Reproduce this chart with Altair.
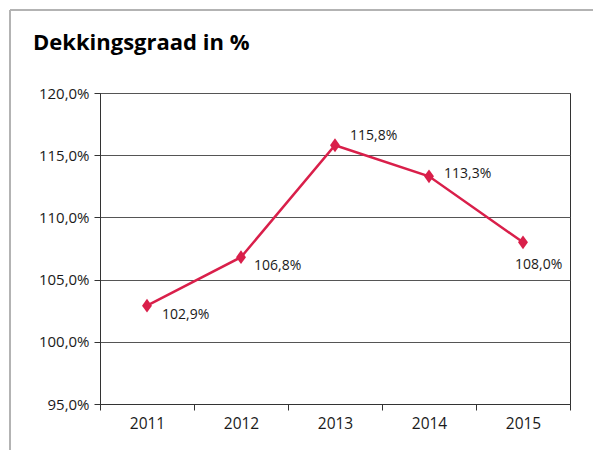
import altair as alt
import pandas as pd

years = ["2011", "2012", "2013", "2014", "2015"]
values = [102.9, 106.8, 115.8, 113.3, 108.0]
y_ticks = [95, 100, 105, 110, 115, 120]
title_text = "Dekkingsgraad in %"

df = pd.DataFrame({"jaar": years, "dekking": values})

RED = "#D91F4A"
FONT = "Open Sans"
W, H = 470, 311
PL, PT = 100, 93

base = alt.Chart(df)

x = alt.X("jaar:N", title=None, sort=years,
          scale=alt.Scale(paddingInner=0, paddingOuter=0),
          axis=alt.Axis(tickBand="extent", labelAngle=0, grid=False, domainColor="#333",
                        tickColor="#333", tickSize=6, labelPadding=6, labelFontSize=15.5,
                        labelColor="#1a1a1a", labelFont=FONT))
y = alt.Y("dekking:Q", title=None,
          scale=alt.Scale(domain=[95, 120], nice=False, zero=False),
          axis=alt.Axis(values=y_ticks, grid=True, gridColor="#555", gridWidth=1,
                        domainColor="#333", tickColor="#333", tickSize=6, labelPadding=5,
                        labelFontSize=15, labelColor="#1a1a1a", labelFont=FONT,
                        labelExpr="replace(format(datum.value, '.1f'), '.', ',') + '%'"))

line = base.mark_line(color=RED, strokeWidth=2.5).encode(x=x, y=y)
pts = base.mark_point(shape="M0,-1L0.72,0L0,1L-0.72,0Z", filled=True, opacity=1,
                      color=RED, size=190).encode(x="jaar:N", y="dekking:Q")

offsets = {"2011": (15, 9), "2012": (13, 9), "2013": (15, -9),
           "2014": (15, -2), "2015": (-8, 23)}
labels = []
for yr, (dx, dy) in offsets.items():
    labels.append(
        base.transform_filter(alt.datum.jaar == yr)
        .transform_calculate(lbl="replace(format(datum.dekking, '.1f'), '.', ',') + '%'")
        .mark_text(align="left", baseline="middle", dx=dx, dy=dy, fontSize=14,
                   font=FONT, color="#1a1a1a")
        .encode(x="jaar:N", y="dekking:Q", text="lbl:N")
    )

frame_left = base.mark_rule(color="#b3b3b3", strokeWidth=2).encode(
    x=alt.value(-PL + 10), y=alt.value(-PT + 10), y2=alt.value(450 - PT + 5))
frame_top = base.mark_rule(color="#b3b3b3", strokeWidth=2).encode(
    x=alt.value(-PL + 10), x2=alt.value(600 - PL), y=alt.value(-PT + 10))

title = alt.Chart(pd.DataFrame({"t": [title_text]})).mark_text(
    align="left", baseline="alphabetic", fontSize=22, fontWeight="bold",
    font=FONT, color="#000").encode(
    text="t:N", x=alt.value(33 - PL), y=alt.value(50 - PT))

chart = alt.layer(frame_left, frame_top, line, pts, *labels, title).properties(
    width=W, height=H,
    autosize=alt.AutoSizeParams(type="none"),
    padding={"left": PL, "top": PT, "right": 593 - PL - W, "bottom": 450 - PT - H},
    background="white",
).configure_view(stroke="#333", strokeWidth=1)

chart.save("out.html", embed_options={"renderer": "svg", "actions": False})
